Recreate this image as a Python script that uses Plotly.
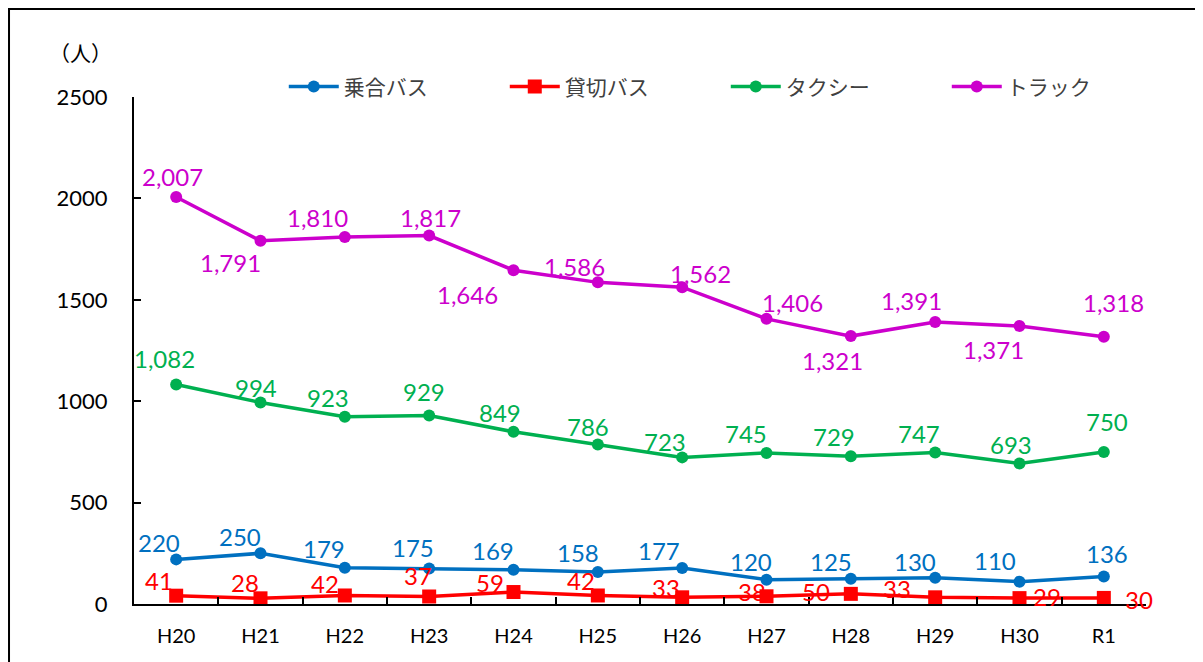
import plotly.graph_objects as go

years = ["H20", "H21", "H22", "H23", "H24", "H25", "H26", "H27", "H28", "H29", "H30", "R1"]
noriai_bus = [220, 250, 179, 175, 169, 158, 177, 120, 125, 130, 110, 136]
kashikiri_bus = [41, 28, 42, 37, 59, 42, 33, 38, 50, 33, 29, 30]
taxi = [1082, 994, 923, 929, 849, 786, 723, 745, 729, 747, 693, 750]
truck = [2007, 1791, 1810, 1817, 1646, 1586, 1562, 1406, 1321, 1391, 1371, 1318]

names = ["乗合バス", "貸切バス", "タクシー", "トラック"]
colors = ["#0070C0", "#FF0000", "#00B050", "#CC00CC"]
symbols = ["circle", "square", "circle", "circle"]
msizes = [12, 14, 12, 12]

# label offsets in pixels (dx right, dy down) -- styling only
off_noriai = [(-17, -17), (-21, -17), (-21, -19), (-16, -21), (-21, -19), (-20, -19),
              (-23, -18), (-16, -18), (-20, -17), (-20, -16), (-25, -21), (3, -23)]
off_kashi = [(-17, -15), (-16, -16), (-20, -12), (-11, -21), (-24, -10), (-17, -15),
             (-16, -10), (-15, -5), (-35, -2), (-38, -9), (27, -2), (35, 2)]
off_taxi = [(-12, -26), (-5, -15), (-17, -19), (-5, -24), (-14, -19), (-10, -18),
            (-17, -16), (-21, -19), (-17, -20), (-16, -19), (-9, -19), (3, -30)]
off_truck = [(-4, -20), (-30, 22), (-27, -19), (1, -18), (-46, 24), (-23, -16),
             (18, -14), (26, -16), (-18, 24), (-24, -21), (-26, 24), (10, -34)]

series = [noriai_bus, kashikiri_bus, taxi, truck]
offsets = [off_noriai, off_kashi, off_taxi, off_truck]

FONT = "Lato, 'Noto Sans CJK JP', sans-serif"
CJK = "'Noto Sans CJK JP', sans-serif"

fig = go.Figure()
annotations = []
for name, vals, col, sym, ms, offs in zip(names, series, colors, symbols, msizes, offsets):
    fig.add_trace(go.Scatter(
        x=years, y=vals, name=name, mode="lines+markers",
        line=dict(color=col, width=3.5),
        marker=dict(symbol=sym, size=ms, color=col),
    ))
    for yr, v, (dx, dy) in zip(years, vals, offs):
        annotations.append(dict(
            x=yr, y=v, xref="x", yref="y", text=f"{v:,}", showarrow=False,
            xanchor="center", yanchor="middle",
            xshift=dx, yshift=-dy, font=dict(family=FONT, size=24, color=col),
        ))

annotations.append(dict(
    x=-0.0524, y=1.0888, xref="paper", yref="paper", text="（人）", showarrow=False,
    xanchor="center", yanchor="middle",
    font=dict(family=CJK, size=21, color="#000000"),
))

fig.update_layout(
    width=1203, height=662,
    margin=dict(l=126, r=65, t=89, b=66),
    paper_bgcolor="white", plot_bgcolor="white",
    font=dict(family=FONT, color="#000000"),
    showlegend=True,
    legend=dict(
        orientation="h", x=0.148, y=1.02, xanchor="left", yanchor="middle",
        font=dict(family=CJK, size=21, color="#404040"),
        itemwidth=50,
        entrywidth=156, entrywidthmode="pixels", bgcolor="rgba(0,0,0,0)",
    ),
    annotations=annotations,
    shapes=[dict(type="rect", xref="paper", yref="paper",
                 x0=-0.1235, x1=1.08, y0=-0.15, y1=1.1736,
                 line=dict(color="#000000", width=2), layer="below")],
)

fig.update_xaxes(
    type="category", range=[-0.5, 11.5], showgrid=False,
    showline=True, linecolor="#000000", linewidth=2,
    ticks="inside", tickson="boundaries", ticklen=7, tickcolor="#000000", tickwidth=1.5,
    tickfont=dict(family=FONT, size=20, color="#000000"), ticklabelstandoff=13,
)
fig.update_yaxes(
    range=[0, 2500], dtick=500, tickformat="d", showgrid=False, zeroline=False,
    showline=True, linecolor="#000000", linewidth=2,
    ticks="inside", ticklen=7, tickcolor="#000000", tickwidth=1.5,
    tickfont=dict(family=FONT, size=22, color="#000000"), ticklabelstandoff=20,
)

fig.write_html("out.html")
